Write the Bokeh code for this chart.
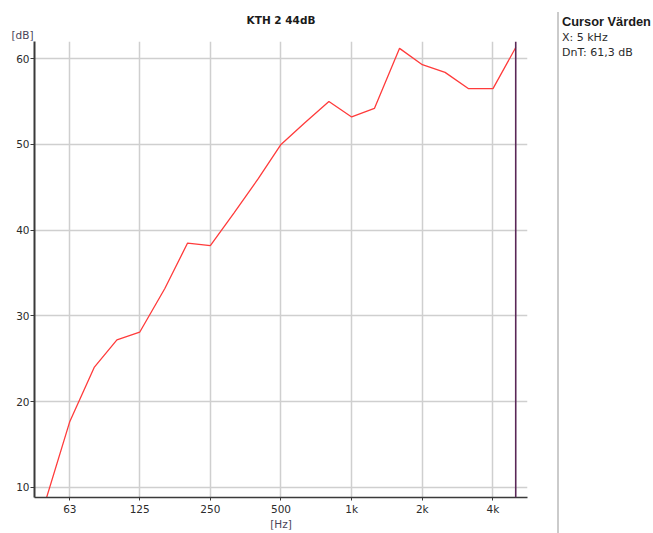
from bokeh.plotting import figure
from bokeh.models import Range1d, FixedTicker, Span, Title, Div
from bokeh.layouts import row
from bokeh.embed import file_html
from bokeh.resources import INLINE

# ---- data ----
freqs = [50, 63, 80, 100, 125, 160, 200, 250, 315, 400, 500, 630, 800,
         1000, 1250, 1600, 2000, 2500, 3150, 4000, 5000]
dnt = [8.7, 17.7, 24.0, 27.2, 28.1, 33.2, 38.5, 38.2, 42.0, 46.0, 50.0, 52.5, 55.0,
       53.2, 54.2, 61.2, 59.3, 58.4, 56.5, 56.5, 61.3]
x_ticks = [63, 125, 250, 500, 1000, 2000, 4000]
x_tick_labels = ["63", "125", "250", "500", "1k", "2k", "4k"]
y_ticks = [10, 20, 30, 40, 50, 60]
chart_title = "KTH 2 44dB"
panel_title = "Cursor Värden"
cursor_freq = 5000
cursor_value = 61.3

FONT = "DejaVu Sans"
TXT = "#2b2b2b"
UNIT = "#4a4458"

p = figure(width=557, height=533, x_axis_type="log",
           x_range=Range1d(44.55, 5612), y_range=Range1d(8.83, 62.0),
           output_backend="svg", toolbar_location=None,
           min_border_left=34, min_border_right=30,
           min_border_top=41, min_border_bottom=36)
p.outline_line_color = None
p.background_fill_color = "white"
p.border_fill_color = "white"

# titles: chart title on top, "[dB]" just above the frame
p.title.text = chart_title
p.title.align = "center"
p.title.offset = -11.5
p.title.standoff = 1
p.title.text_font = FONT
p.title.text_font_size = "10.5px"
p.title.text_font_style = "bold"
p.title.text_color = "#1a1a1a"
p.add_layout(Title(text="[dB]", align="left", offset=-23, standoff=1,
                   text_font=FONT, text_font_size="10.5px", text_font_style="normal",
                   text_color=UNIT), "above")

p.line(freqs, dnt, line_color="#ff3b3b", line_width=1.3)
p.add_layout(Span(location=cursor_freq, dimension="height",
                  line_color="#5a2858", line_width=1.6))

# axes
p.xaxis.ticker = FixedTicker(ticks=x_ticks)
p.xaxis.major_label_overrides = {t: l for t, l in zip(x_ticks, x_tick_labels)}
p.yaxis.ticker = FixedTicker(ticks=y_ticks)
for ax in (p.xaxis, p.yaxis):
    ax.minor_tick_line_color = None
    ax.major_tick_in = 0
    ax.major_label_text_font = FONT
    ax.major_label_text_font_size = "10.5px"
    ax.major_label_text_color = TXT
    ax.axis_line_color = "#3a3a3a"
    ax.major_tick_line_color = "#3a3a3a"
p.xaxis.major_tick_out = 3
p.xaxis.major_label_standoff = 2
p.xaxis.axis_line_width = 1.5
p.xaxis.axis_label = "[Hz]"
p.xaxis.axis_label_standoff = 0
p.xaxis.axis_label_text_font = FONT
p.xaxis.axis_label_text_font_size = "10.5px"
p.xaxis.axis_label_text_font_style = "normal"
p.xaxis.axis_label_text_color = UNIT
p.yaxis.major_tick_out = 4
p.yaxis.major_label_standoff = 1
p.yaxis.axis_line_width = 2

for g in (p.xgrid, p.ygrid):
    g.grid_line_color = "#cfcfcf"
    g.grid_line_width = 1.5

# ---- right cursor panel ----
x_txt = f"X: {cursor_freq // 1000} kHz"
v_txt = "DnT: " + f"{cursor_value:.1f}".replace(".", ",") + " dB"
html = (
    '<div style="margin-top:12px;height:521px;border-left:2px solid #cbcbcb;'
    'padding-left:3px;padding-top:2px;box-sizing:border-box;'
    "font-family:'DejaVu Sans';font-size:11px;line-height:15px;color:#2b2b2b;"
    'white-space:nowrap">'
    "<div style=\"font-family:'Liberation Sans';font-weight:bold;font-size:12.8px;"
    f'color:#1a1a1a;line-height:16px">{panel_title}</div>'
    f"<div>{x_txt}</div><div>{v_txt}</div></div>"
)
panel = Div(text=html, width=96, height=533, margin=(0, 0, 0, 0))

layout = row(p, panel)
open("out.html", "w").write(file_html(layout, INLINE))
